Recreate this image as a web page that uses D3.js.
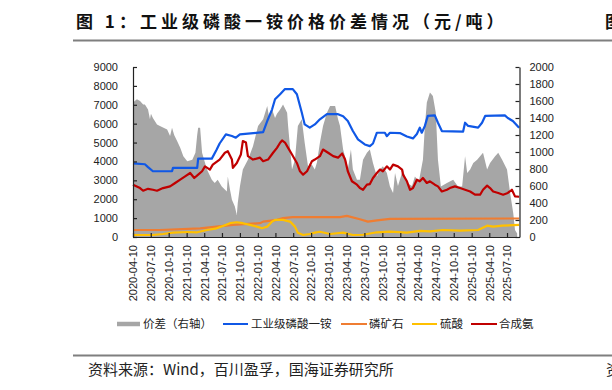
<!DOCTYPE html>
<html><head><meta charset="utf-8">
<script src="https://cdn.jsdelivr.net/npm/d3@7"></script>
<style>
body{margin:0;background:#fff;}
svg{display:block;}
</style></head>
<body><svg id="c" width="612" height="390"></svg>
<script>
// ---------- DATA ----------
const xTickLabels = ["2020-04-10","2020-07-10","2020-10-10","2021-01-10","2021-04-10","2021-07-10","2021-10-10","2022-01-10","2022-04-10","2022-07-10","2022-10-10","2023-01-10","2023-04-10","2023-07-10","2023-10-10","2024-01-10","2024-04-10","2024-07-10","2024-10-10","2025-01-10","2025-04-10","2025-07-10"];
const leftTicks = [0,1000,2000,3000,4000,5000,6000,7000,8000,9000];
const rightTicks = [0,200,400,600,800,1000,1200,1400,1600,1800,2000];
const seriesNames = ["价差（右轴）","工业级磷酸一铵","磷矿石","硫酸","合成氨"];

// 价差 (right axis)
const spread = [["2020-04-10",1582],["2020-04-30",1620],["2020-05-16",1600],["2020-06-01",1560],["2020-06-10",1560],["2020-06-26",1500],["2020-07-06",1385],["2020-07-11",1450],["2020-07-21",1400],["2020-08-11",1325],["2020-08-26",1305],["2020-10-02",1265],["2020-10-17",1187],["2020-10-27",1286],["2020-11-07",1200],["2020-11-22",1128],["2020-12-08",1050],["2020-12-24",950],["2021-01-13",890],["2021-02-08",910],["2021-02-24",990],["2021-03-05",1200],["2021-03-10",1286],["2021-03-20",1286],["2021-03-30",990],["2021-04-24",793],["2021-05-19",675],["2021-06-03",635],["2021-06-18",675],["2021-07-09",595],["2021-08-04",536],["2021-08-09",713],["2021-08-20",560],["2021-08-30",438],["2021-09-14",358],["2021-09-24",260],["2021-09-29",400],["2021-10-10",595],["2021-10-25",793],["2021-11-20",910],["2021-12-16",1068],["2022-01-11",1305],["2022-02-06",1385],["2022-02-27",1541],["2022-03-09",1400],["2022-03-24",1500],["2022-04-08",1400],["2022-04-18",1450],["2022-05-04",1500],["2022-05-19",1560],["2022-06-09",1462],["2022-06-14",1305],["2022-07-04",793],["2022-07-19",910],["2022-08-03",1305],["2022-08-23",1385],["2022-09-07",1108],["2022-09-24",831],["2022-10-14",850],["2022-10-29",793],["2022-11-09",880],["2022-11-24",1108],["2022-12-10",1305],["2022-12-30",1462],["2023-01-15",1541],["2023-02-10",1541],["2023-02-25",1385],["2023-03-07",1305],["2023-03-23",1030],["2023-04-11",872],["2023-04-16",793],["2023-05-02",1030],["2023-05-12",793],["2023-06-02",675],["2023-06-17",675],["2023-07-03",910],["2023-07-23",990],["2023-08-07",1030],["2023-08-23",872],["2023-09-12",713],["2023-09-28",793],["2023-10-13",831],["2023-11-02",754],["2023-11-18",595],["2023-12-04",517],["2023-12-14",754],["2023-12-29",600],["2024-01-24",793],["2024-02-13",635],["2024-03-10",600],["2024-03-25",713],["2024-04-14",650],["2024-05-05",910],["2024-05-15",1305],["2024-05-25",1582],["2024-06-10",1700],["2024-06-25",1660],["2024-07-10",1462],["2024-07-21",910],["2024-08-05",595],["2024-09-05",635],["2024-10-07",675],["2024-11-01",595],["2024-11-22",595],["2024-12-07",950],["2024-12-18",754],["2025-01-02",793],["2025-01-18",872],["2025-02-07",910],["2025-02-22",950],["2025-03-09",990],["2025-03-30",793],["2025-04-14",870],["2025-05-10",950],["2025-05-26",990],["2025-06-15",910],["2025-07-10",793],["2025-07-26",517],["2025-08-11",280],["2025-08-20",83],["2025-08-31",40]];

// 工业级磷酸一铵 (left axis)
const map = [["2020-04-10",3900],["2020-06-10",3850],["2020-06-26",3700],["2020-07-21",3480],["2020-10-27",3480],["2020-11-01",3660],["2021-03-05",3660],["2021-03-10",4150],["2021-05-19",4150],["2021-06-13",4630],["2021-06-28",4950],["2021-07-30",5430],["2021-08-30",5350],["2021-09-19",5260],["2021-10-10",5430],["2022-02-06",5550],["2022-02-27",6140],["2022-03-24",6760],["2022-04-08",7290],["2022-05-04",7560],["2022-05-29",7830],["2022-07-08",7830],["2022-07-29",7560],["2022-08-23",6590],["2022-09-07",5960],["2022-10-03",5790],["2022-10-29",5960],["2022-11-24",6230],["2022-12-30",6500],["2023-02-25",6500],["2023-03-23",6390],["2023-04-16",6140],["2023-05-12",5610],["2023-06-07",5170],["2023-07-12",4900],["2023-08-07",4810],["2023-08-23",4950],["2023-09-12",5520],["2023-10-23",5520],["2023-11-02",5340],["2023-11-18",5520],["2024-01-08",5500],["2024-02-13",5320],["2024-03-15",5220],["2024-04-04",5450],["2024-04-19",5790],["2024-04-29",5520],["2024-05-15",5880],["2024-05-30",6410],["2024-07-05",6440],["2024-07-21",6050],["2024-08-10",5610],["2024-11-27",5580],["2024-12-07",6050],["2024-12-23",5880],["2025-02-12",5790],["2025-03-04",6050],["2025-03-20",6410],["2025-06-29",6440],["2025-07-14",6300],["2025-08-09",6140],["2025-09-10",5790]];

// 磷矿石 (left axis)
const rock = [["2020-04-10",370],["2020-08-26",370],["2021-03-20",460],["2021-06-13",550],["2021-09-04",640],["2022-01-21",730],["2022-02-06",815],["2022-04-18",910],["2022-05-19",1000],["2022-07-08",1050],["2023-03-07",1050],["2023-04-11",1120],["2023-06-17",940],["2023-07-28",815],["2023-09-12",880],["2023-11-18",960],["2025-09-10",980]];

// 硫酸 (left axis)
const acid = [["2020-04-10",105],["2020-07-21",105],["2020-09-11",160],["2020-11-01",230],["2021-01-13",265],["2021-03-05",250],["2021-04-24",370],["2021-06-13",460],["2021-07-15",585],["2021-08-20",730],["2021-09-24",780],["2021-10-25",730],["2021-11-30",640],["2022-01-05",550],["2022-01-31",460],["2022-02-27",550],["2022-03-24",815],["2022-04-08",905],["2022-05-19",905],["2022-06-24",815],["2022-07-19",550],["2022-08-03",230],["2022-08-30",105],["2022-10-03",160],["2022-10-29",230],["2022-11-24",280],["2023-01-15",160],["2023-03-23",230],["2023-05-12",105],["2023-07-03",120],["2023-09-12",250],["2023-11-18",280],["2024-02-13",230],["2024-04-19",320],["2024-06-10",300],["2024-08-15",370],["2024-11-11",340],["2025-02-12",370],["2025-03-30",600],["2025-04-30",550],["2025-06-15",600],["2025-09-10",640]];

// 合成氨 (left axis)
const ammonia = [["2020-04-10",2770],["2020-05-16",2590],["2020-06-01",2450],["2020-06-26",2550],["2020-07-21",2500],["2020-08-11",2450],["2020-09-11",2590],["2020-10-17",2680],["2020-11-12",2860],["2020-12-08",3035],["2021-01-02",3210],["2021-01-28",3390],["2021-02-18",3125],["2021-03-10",3300],["2021-03-30",3480],["2021-04-14",3740],["2021-05-09",3570],["2021-05-24",3830],["2021-06-28",4100],["2021-07-25",4460],["2021-08-09",4540],["2021-08-30",4100],["2021-09-04",3660],["2021-09-24",3920],["2021-10-15",4370],["2021-10-25",5080],["2021-11-10",5000],["2021-11-20",4280],["2021-12-16",4100],["2022-01-21",4200],["2022-02-06",4010],["2022-03-03",4100],["2022-03-29",4460],["2022-04-18",4720],["2022-05-04",4990],["2022-05-14",5110],["2022-05-29",5000],["2022-06-14",4720],["2022-07-04",4370],["2022-07-29",3920],["2022-08-14",3480],["2022-08-30",3300],["2022-09-19",3480],["2022-10-14",4010],["2022-10-29",4100],["2022-11-24",4280],["2022-12-10",4630],["2023-01-05",4460],["2023-01-31",4280],["2023-02-25",4200],["2023-03-18",4420],["2023-04-02",4100],["2023-04-16",3480],["2023-05-07",2950],["2023-06-02",2770],["2023-06-17",2590],["2023-07-03",2500],["2023-07-23",2770],["2023-08-07",2800],["2023-08-23",3125],["2023-09-12",3390],["2023-09-28",3570],["2023-10-13",3480],["2023-11-02",3740],["2023-11-18",3570],["2023-12-04",3830],["2023-12-29",3740],["2024-01-19",3570],["2024-01-24",3300],["2024-02-13",2950],["2024-02-29",2500],["2024-03-15",2590],["2024-04-04",3035],["2024-04-19",2950],["2024-05-05",3125],["2024-05-25",2860],["2024-06-10",2950],["2024-07-05",2770],["2024-07-21",2680],["2024-08-10",2410],["2024-09-05",2500],["2024-09-20",2590],["2024-10-16",2680],["2024-11-11",2590],["2024-12-07",2500],["2025-01-02",2410],["2025-01-27",2240],["2025-02-22",2240],["2025-03-09",2500],["2025-03-30",2720],["2025-04-14",2590],["2025-04-30",2410],["2025-05-26",2330],["2025-06-20",2240],["2025-07-14",2330],["2025-08-04",2500],["2025-08-20",2150],["2025-09-10",2130]];

// ---------- CHART ----------
const parse = d3.timeParse("%Y-%m-%d");
const svg = d3.select("#c");
const L = 133, R = 519.5, T = 67, B = 237;
const x = d3.scaleTime().domain([parse("2020-04-10"), parse("2025-09-12")]).range([L, R]);
const yL = d3.scaleLinear().domain([0, 9000]).range([B, T]);
const yR = d3.scaleLinear().domain([0, 2000]).range([B, T]);
const colors = {spread:"#a6a6a6", map:"#1058e6", rock:"#ef7d32", acid:"#ffc000", ammonia:"#c00000"};
const latin = "'Liberation Sans', Arial, sans-serif";
const cjk = "'Noto Sans CJK SC', sans-serif";

// title
svg.append("text").attr("x", 76).attr("y", 28)
  .attr("font-family", cjk).attr("font-weight", "bold").attr("font-size", 17)
  .attr("letter-spacing", 4).attr("fill", "#111")
  .text("图 1：工业级磷酸一铵价格价差情况（元/吨）");
svg.append("text").attr("x", 605).attr("y", 28)
  .attr("font-family", cjk).attr("font-weight", "bold").attr("font-size", 17).attr("fill", "#111").text("图");
svg.append("line").attr("x1", 73).attr("x2", 612).attr("y1", 40.5).attr("y2", 40.5)
  .attr("stroke", "#7f7f7f").attr("stroke-width", 2);

// area
const area = d3.area().x(d => x(parse(d[0]))).y0(B).y1(d => yR(d[1]));
svg.append("path").datum(spread).attr("d", area).attr("fill", colors.spread);

const line = d3.line().x(d => x(parse(d[0]))).y(d => yL(d[1])).curve(d3.curveLinear);
[["map", map], ["rock", rock], ["acid", acid], ["ammonia", ammonia]].forEach(([k, data]) => {
  svg.append("path").datum(data).attr("d", line).attr("fill", "none")
    .attr("stroke", colors[k]).attr("stroke-width", 2.2).attr("stroke-linejoin", "round");
});

// axes
const fmt = d3.format("d");
const gl = svg.append("g").attr("transform", `translate(${L},0)`)
  .call(d3.axisLeft(yL).tickValues(leftTicks).tickFormat(fmt).tickSize(-4).tickSizeOuter(0).tickPadding(15));
const gr = svg.append("g").attr("transform", `translate(${R},0)`)
  .call(d3.axisRight(yR).tickValues(rightTicks).tickFormat(fmt).tickSize(-4).tickSizeOuter(0).tickPadding(10));
const gb = svg.append("g").attr("transform", `translate(0,${B})`)
  .call(d3.axisBottom(x).tickValues(xTickLabels.map(parse)).tickSize(-4).tickSizeOuter(0)
    .tickFormat(d3.timeFormat("%Y-%m-%d")));
gb.selectAll("text").attr("transform", "rotate(-90)").attr("text-anchor", "end")
  .attr("x", -8).attr("y", 0).attr("dy", "0.35em");
[gl, gr, gb].forEach(g => {
  g.selectAll("text").attr("font-family", latin).attr("font-size", 11).attr("fill", "#222");
  g.selectAll("line,path").attr("stroke", "#222").attr("stroke-width", 1.2);
});

// legend
const lg = svg.append("g").attr("font-family", cjk).attr("font-size", 11.5).attr("fill", "#222");
const items = [
  {x1:117, x2:140, tx:143, c:colors.spread, w:4.5, name:seriesNames[0]},
  {x1:223, x2:248, tx:251, c:colors.map, w:2, name:seriesNames[1]},
  {x1:341, x2:367, tx:369, c:colors.rock, w:2, name:seriesNames[2]},
  {x1:412, x2:437, tx:440, c:colors.acid, w:2, name:seriesNames[3]},
  {x1:471, x2:497, tx:499, c:colors.ammonia, w:2, name:seriesNames[4]}
];
items.forEach(it => {
  lg.append("line").attr("x1", it.x1).attr("x2", it.x2).attr("y1", 324).attr("y2", 324)
    .attr("stroke", it.c).attr("stroke-width", it.w);
  lg.append("text").attr("x", it.tx).attr("y", 324).attr("dy", "0.36em").text(it.name);
});

// source
svg.append("line").attr("x1", 73).attr("x2", 612).attr("y1", 355.5).attr("y2", 355.5)
  .attr("stroke", "#7f7f7f").attr("stroke-width", 2);
svg.append("text").attr("x", 88).attr("y", 375).attr("font-family", cjk).attr("font-size", 15)
  .attr("fill", "#222").text("资料来源：Wind，百川盈孚，国海证券研究所");
svg.append("text").attr("x", 606).attr("y", 375).attr("font-family", cjk).attr("font-size", 15)
  .attr("fill", "#222").text("资");
</script></body></html>
